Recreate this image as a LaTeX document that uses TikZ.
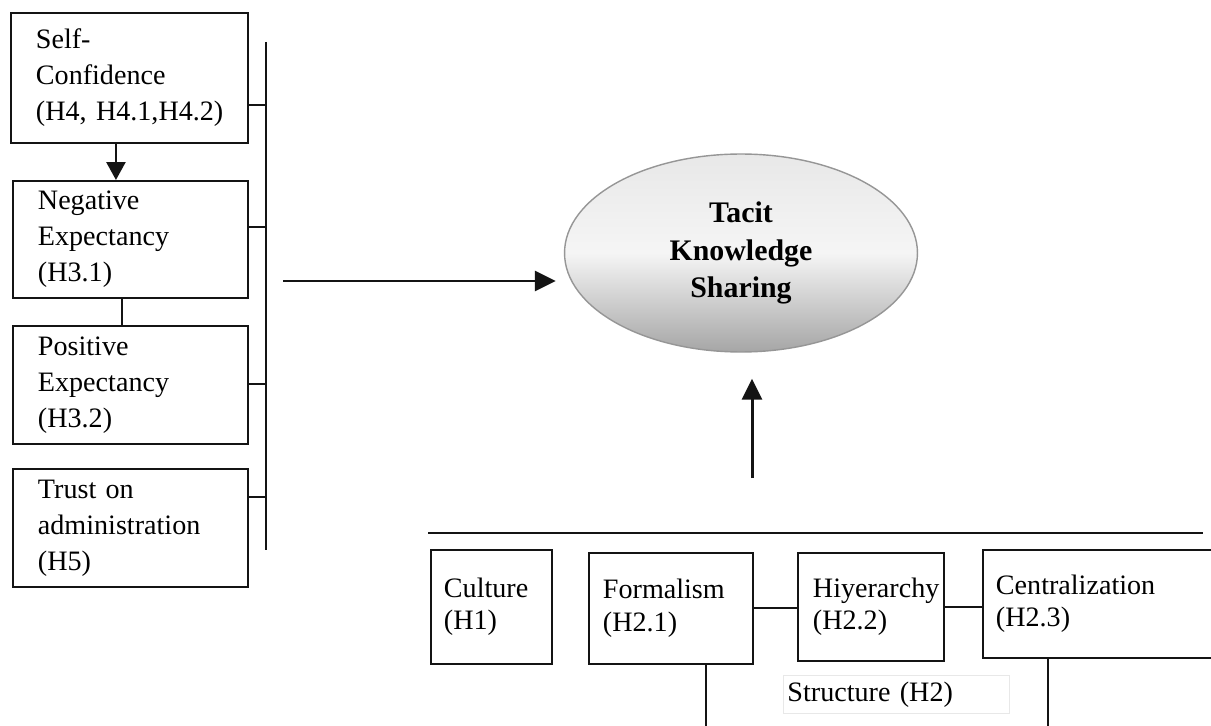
\documentclass[tikz,border=0pt]{standalone}
\usepackage{fontspec}
\setmainfont{Liberation Serif}
\usepackage{tikz}
\usetikzlibrary{shapes.geometric, arrows.meta, positioning}
\definecolor{ink}{RGB}{20, 20, 20}
\definecolor{light}{RGB}{245, 245, 245}
\definecolor{mid}{RGB}{150, 150, 150}
\definecolor{faint}{RGB}{232, 232, 232}

\begin{document}
\begin{tikzpicture}[x=0.02cm, y=-0.02cm,
    factor/.style={draw=ink, line width=1.1pt, rectangle, anchor=north west, align=left,
      font=\fontsize{16}{20.5}\selectfont},
    unit/.style={draw=ink, line width=1.1pt, rectangle, anchor=north west, align=left,
      font=\fontsize{16}{18.5}\selectfont},
    link/.style={ink, line width=0.8pt},
    arr/.style={ink, line width=1.7pt, -{Triangle[length=0.42cm, width=0.4cm]}}]
  \clip (0, 0) rectangle (1211, 726);
  \fill[white] (0, 0) rectangle (1211, 726);

  % individual factors
  \node[factor, minimum width=4.74cm, minimum height=2.6cm, inner xsep=0.5cm, text width=3.74cm]
    (self) at (10, 12) {Self-\\Confidence\\(H4,~H4.1,H4.2)};
  \node[factor, minimum width=4.7cm, minimum height=2.34cm, inner xsep=0.5cm, text width=3.7cm]
    (neg) at (12, 180) {Negative\\Expectancy\\(H3.1)};
  \node[factor, minimum width=4.7cm, minimum height=2.36cm, inner xsep=0.5cm, text width=3.7cm]
    (pos) at (12, 325) {Positive\\Expectancy\\(H3.2)};
  \node[factor, minimum width=4.7cm, minimum height=2.36cm, inner xsep=0.5cm, text width=3.7cm]
    (trust) at (12, 468) {Trust on\\administration\\(H5)};

  \draw[ink, line width=1.5pt, -{Triangle[length=0.36cm, width=0.38cm]}]
    ([xshift=-0.27cm]self.south) -- ([xshift=-0.27cm]self.south |- neg.north);
  \draw[link, line width=1.1pt] ([xshift=-0.17cm]neg.south) -- ([xshift=-0.17cm]neg.south |- pos.north);

  \coordinate (busT) at (266, 42);
  \coordinate (busB) at (266, 550);
  \draw[link, line width=1.1pt] (busT) -- (busB);
  \foreach \b/\y in {self/105, neg/227, pos/384, trust/497} {
    \draw[link] (\b.east |- 0, \y) -- (busT |- 0, \y);
  }

  % outcome
  \node[ellipse, draw=mid, line width=0.8pt, top color=faint, bottom color=mid!85, middle color=light,
    minimum width=7.06cm, minimum height=3.96cm, align=center,
    font=\bfseries\fontsize{17}{21.5}\selectfont] (ks) at (741, 253) {Tacit\\Knowledge\\Sharing};

  \coordinate (inL) at (283, 281);
  \draw[arr, shorten >=0.16cm] (inL) -- (inL -| ks.west);
  \coordinate (inB) at (752, 478);
  \draw[arr, shorten >=0.52cm] (inB) -- (inB |- ks.south);

  % organisational factors
  \coordinate (rowL) at (428, 533);
  \coordinate (rowR) at (1203, 533);
  \draw[link, line width=1.1pt] (rowL) -- (rowR);

  \node[unit, minimum width=2.42cm, minimum height=2.28cm, inner xsep=0.26cm, text width=1.9cm]
    (cult) at (430, 549) {Culture\\(H1)};
  \node[unit, minimum width=3.28cm, minimum height=2.22cm, inner xsep=0.28cm, text width=2.72cm]
    (form) at (588, 552) {Formalism\\(H2.1)};
  \node[unit, minimum width=2.92cm, minimum height=2.16cm, inner xsep=0.3cm, text width=2.32cm]
    (hier) at (797, 552) {Hiyerarchy\\(H2.2)};
  \node[unit, minimum width=5cm, minimum height=2.16cm, inner xsep=0.26cm, text width=4.48cm]
    (cent) at (982, 549) {Centralization\\(H2.3)};

  \draw[link, line width=1.1pt] (form.east) -- (form.east -| hier.west);
  \draw[link, line width=1.1pt] (hier.east) -- (hier.east -| cent.west);

  \coordinate (formdown) at (706, 726);
  \coordinate (centdown) at (1048, 726);
  \draw[link, line width=1.1pt] (formdown |- form.south) -- (formdown);
  \draw[link, line width=1.1pt] (centdown |- cent.south) -- (centdown);

  \node[draw=faint, line width=0.5pt, anchor=north west, minimum width=4.52cm, minimum height=0.76cm,
    inner xsep=0.08cm, text width=4.36cm, align=left, font=\fontsize{16}{18}\selectfont]
    (struct) at (783, 675) {Structure (H2)};
\end{tikzpicture}
\end{document}
